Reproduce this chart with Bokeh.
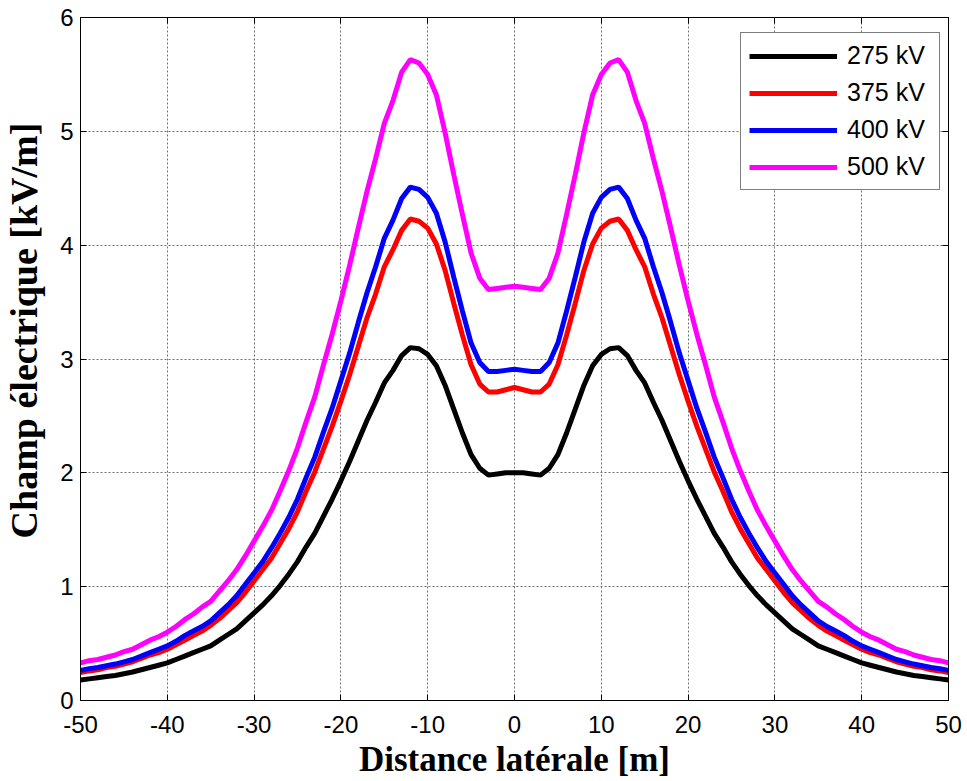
from bokeh.plotting import figure
from bokeh.models import LinearAxis, Range1d, FixedTicker, Legend, LegendItem
from bokeh.embed import file_html
from bokeh.resources import INLINE

# ---- data ----
distance_m = list(range(-50, 51))

e_275kv = [
    0.18, 0.19, 0.20, 0.21, 0.22, 0.235, 0.25, 0.27, 0.29, 0.31,
    0.33, 0.36, 0.39, 0.42, 0.45, 0.48, 0.53, 0.58, 0.63, 0.70,
    0.77, 0.84, 0.92, 1.01, 1.11, 1.22, 1.35, 1.47, 1.62, 1.77,
    1.93, 2.10, 2.28, 2.46, 2.62, 2.79, 2.90, 3.03, 3.10, 3.09,
    3.04, 2.94, 2.77, 2.56, 2.35, 2.16, 2.04, 1.98, 1.99, 2.00,
    2.00,
    2.00, 1.99, 1.98, 2.04, 2.16, 2.35, 2.56, 2.77, 2.94, 3.04,
    3.09, 3.10, 3.03, 2.90, 2.79, 2.62, 2.46, 2.28, 2.10, 1.93,
    1.77, 1.62, 1.47, 1.35, 1.22, 1.11, 1.01, 0.92, 0.84, 0.77,
    0.70, 0.63, 0.58, 0.53, 0.48, 0.45, 0.42, 0.39, 0.36, 0.33,
    0.31, 0.29, 0.27, 0.25, 0.235, 0.22, 0.21, 0.20, 0.19, 0.18,
]

e_375kv = [
    0.245, 0.26, 0.27, 0.29, 0.30, 0.32, 0.34, 0.37, 0.40, 0.42,
    0.45, 0.49, 0.53, 0.57, 0.61, 0.66, 0.72, 0.79, 0.86, 0.95,
    1.05, 1.15, 1.25, 1.38, 1.51, 1.66, 1.84, 2.01, 2.21, 2.41,
    2.63, 2.86, 3.11, 3.36, 3.57, 3.81, 3.96, 4.13, 4.23, 4.21,
    4.15, 4.01, 3.78, 3.49, 3.21, 2.95, 2.78, 2.71, 2.71, 2.73,
    2.75,
    2.73, 2.71, 2.71, 2.78, 2.95, 3.21, 3.49, 3.78, 4.01, 4.15,
    4.21, 4.23, 4.13, 3.96, 3.81, 3.57, 3.36, 3.11, 2.86, 2.63,
    2.41, 2.21, 2.01, 1.84, 1.66, 1.51, 1.38, 1.25, 1.15, 1.05,
    0.95, 0.86, 0.79, 0.72, 0.66, 0.61, 0.57, 0.53, 0.49, 0.45,
    0.42, 0.40, 0.37, 0.34, 0.32, 0.30, 0.29, 0.27, 0.26, 0.245,
]

e_400kv = [
    0.265, 0.28, 0.29, 0.305, 0.32, 0.34, 0.36, 0.39, 0.42, 0.45,
    0.48, 0.52, 0.57, 0.61, 0.65, 0.70, 0.77, 0.84, 0.92, 1.02,
    1.12, 1.22, 1.34, 1.47, 1.61, 1.77, 1.96, 2.14, 2.36, 2.57,
    2.81, 3.05, 3.32, 3.58, 3.81, 4.06, 4.22, 4.41, 4.51, 4.49,
    4.42, 4.28, 4.03, 3.72, 3.42, 3.14, 2.97, 2.89, 2.89, 2.90,
    2.91,
    2.90, 2.89, 2.89, 2.97, 3.14, 3.42, 3.72, 4.03, 4.28, 4.42,
    4.49, 4.51, 4.41, 4.22, 4.06, 3.81, 3.58, 3.32, 3.05, 2.81,
    2.57, 2.36, 2.14, 1.96, 1.77, 1.61, 1.47, 1.34, 1.22, 1.12,
    1.02, 0.92, 0.84, 0.77, 0.70, 0.65, 0.61, 0.57, 0.52, 0.48,
    0.45, 0.42, 0.39, 0.36, 0.34, 0.32, 0.305, 0.29, 0.28, 0.265,
]

e_500kv = [
    0.33, 0.35, 0.36, 0.38, 0.40, 0.43, 0.45, 0.49, 0.53, 0.56,
    0.60, 0.65, 0.71, 0.76, 0.82, 0.87, 0.96, 1.05, 1.15, 1.27,
    1.40, 1.53, 1.67, 1.84, 2.02, 2.22, 2.45, 2.67, 2.95, 3.22,
    3.51, 3.82, 4.15, 4.47, 4.76, 5.07, 5.27, 5.52, 5.63, 5.60,
    5.50, 5.32, 4.99, 4.62, 4.27, 3.93, 3.71, 3.61, 3.62, 3.63,
    3.64,
    3.63, 3.62, 3.61, 3.71, 3.93, 4.27, 4.62, 4.99, 5.32, 5.50,
    5.60, 5.63, 5.52, 5.27, 5.07, 4.76, 4.47, 4.15, 3.82, 3.51,
    3.22, 2.95, 2.67, 2.45, 2.22, 2.02, 1.84, 1.67, 1.53, 1.40,
    1.27, 1.15, 1.05, 0.96, 0.87, 0.82, 0.76, 0.71, 0.65, 0.60,
    0.56, 0.53, 0.49, 0.45, 0.43, 0.40, 0.38, 0.36, 0.35, 0.33,
]

series_labels = ["275 kV", "375 kV", "400 kV", "500 kV"]
series_colors = ["#000000", "#ff0000", "#0000ff", "#ff00ff"]
series_values = [e_275kv, e_375kv, e_400kv, e_500kv]

x_ticks = [-50, -40, -30, -20, -10, 0, 10, 20, 30, 40, 50]
y_ticks = [0, 1, 2, 3, 4, 5, 6]

x_title = "Distance latérale [m]"
y_title = "Champ électrique [kV/m]"

# ---- figure ----
p = figure(
    width=967, height=781,
    x_range=Range1d(-50, 50), y_range=Range1d(0, 6),
    output_backend="svg", toolbar_location=None,
    min_border_left=80, min_border_right=19,
    min_border_top=17, min_border_bottom=81,
    background_fill_color="white", border_fill_color="white",
)
p.outline_line_color = "black"
p.outline_line_width = 1

tick_font = "Liberation Sans"
label_font = "Liberation Serif"

for ax, ticks in ((p.xaxis[0], x_ticks), (p.yaxis[0], y_ticks)):
    ax.ticker = FixedTicker(ticks=ticks)
    ax.major_label_overrides = {t: str(t) for t in ticks}
    ax.major_tick_in = 6
    ax.major_tick_out = 0
    ax.minor_tick_in = 0
    ax.minor_tick_out = 0
    ax.axis_line_color = "black"
    ax.major_tick_line_color = "black"
    ax.major_label_text_font = tick_font
    ax.major_label_text_font_size = "24px"
    ax.major_label_text_color = "black"
    ax.axis_label_text_font = label_font
    ax.axis_label_text_font_style = "bold"
    ax.axis_label_text_color = "black"

p.xaxis[0].axis_label = x_title
p.xaxis[0].axis_label_text_font_size = "35px"
p.xaxis[0].major_label_standoff = 15
p.xaxis[0].axis_label_standoff = 4

# leading no-break spaces nudge the vertical title upwards, as in the reference
p.yaxis[0].axis_label = "\u00a0" * 6 + y_title
p.yaxis[0].axis_label_text_font_size = "38px"
p.yaxis[0].major_label_standoff = 7
p.yaxis[0].axis_label_standoff = 12

# box axes (top and right) with inward ticks and no labels
top_ax = LinearAxis(ticker=FixedTicker(ticks=x_ticks))
right_ax = LinearAxis(ticker=FixedTicker(ticks=y_ticks))
for ax, ticks in ((top_ax, x_ticks), (right_ax, y_ticks)):
    ax.major_label_overrides = {t: "" for t in ticks}
    ax.major_tick_in = 6
    ax.major_tick_out = 0
    ax.minor_tick_in = 0
    ax.minor_tick_out = 0
    ax.major_label_text_font_size = "1px"
    ax.major_label_standoff = 0
    ax.axis_line_color = "black"
p.add_layout(top_ax, "above")
p.add_layout(right_ax, "right")

for g in (p.xgrid[0], p.ygrid[0]):
    g.grid_line_color = "#707070"
    g.grid_line_dash = "2 2"
    g.grid_line_width = 1
    g.grid_line_alpha = 1.0
p.xgrid[0].ticker = FixedTicker(ticks=x_ticks)
p.ygrid[0].ticker = FixedTicker(ticks=y_ticks)

items = []
for label, color, vals in zip(series_labels, series_colors, series_values):
    r = p.line(distance_m, vals, line_color=color, line_width=5)
    items.append(LegendItem(label=label, renderers=[r]))

legend = Legend(
    items=items,
    location=(660, 510),
    padding=8, spacing=8, margin=0,
    label_height=28, glyph_height=28, glyph_width=88,
    label_width=84, label_standoff=10,
    border_line_color="black", border_line_width=1,
    background_fill_color="white", background_fill_alpha=1.0,
    label_text_font=tick_font, label_text_font_size="25px",
    label_text_color="black",
)
p.add_layout(legend)

open("out.html", "w").write(file_html(p, INLINE))
